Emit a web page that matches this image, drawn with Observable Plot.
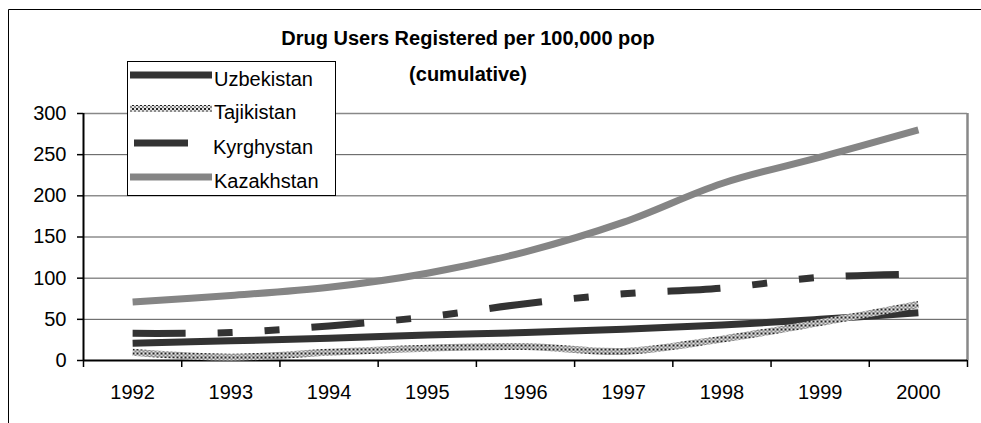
<!DOCTYPE html>
<html>
<head>
<meta charset="utf-8">
<script src="https://cdn.jsdelivr.net/npm/d3@7"></script>
<script src="https://cdn.jsdelivr.net/npm/@observablehq/plot@0.6"></script>
<style>
  html, body { margin: 0; padding: 0; background: #fff; }
  #wrap { position: relative; width: 981px; height: 423px; overflow: hidden; font-family: "Liberation Sans", Arial, sans-serif; }
  #wrap > svg { position: absolute; left: 0; top: 0; }
</style>
</head>
<body>
<div id="wrap"></div>
<script>
// ---- data ----
const years = [1992, 1993, 1994, 1995, 1996, 1997, 1998, 1999, 2000];
const uzbekistan = [21, 24, 27, 31, 34, 38, 43, 50, 58];
const tajikistan = [10, 4, 10, 15, 17, 11, 26, 46, 68];
const kyrghystan = [33, 34, 42, 53, 69, 81, 88, 101, 105];
const kazakhstan = [71, 79, 89, 106, 132, 168, 215, 247, 280];
const seriesNames = ["Uzbekistan", "Tajikistan", "Kyrghystan", "Kazakhstan"];
const yTicks = [0, 50, 100, 150, 200, 250, 300];
const titleLines = ["Drug Users Registered per 100,000 pop", "(cumulative)"];

const seriesValues = [uzbekistan, tajikistan, kyrghystan, kazakhstan];
const styles = {
  Uzbekistan: {stroke: "#333333"},
  Tajikistan: {stroke: "url(#tajpat)"},
  Kyrghystan: {stroke: "#333333", strokeDasharray: "53,32,15,32,15,32"},
  Kazakhstan: {stroke: "#858585"}
};

const wrap = document.getElementById("wrap");

// pattern defs
const defs = d3.select(wrap).append("svg").attr("width", 0).attr("height", 0);
const pat = defs.append("defs").append("pattern")
  .attr("id", "tajpat").attr("patternUnits", "userSpaceOnUse")
  .attr("width", 4).attr("height", 4);
pat.append("rect").attr("width", 4).attr("height", 4).attr("fill", "#e4e4e4");
pat.append("rect").attr("x", 0).attr("y", 0).attr("width", 2).attr("height", 2).attr("fill", "#222");
pat.append("rect").attr("x", 2).attr("y", 2).attr("width", 2).attr("height", 2).attr("fill", "#8a8a8a");

const rows = seriesNames.flatMap((name, k) =>
  years.map((year, i) => ({country: name, year, value: seriesValues[k][i]})));

const x0 = years[0] - 0.5, x1 = years[years.length - 1] + 0.5;
const bounds = d3.range(years.length + 1).map(i => x0 + i);

const chart = Plot.plot({
  width: 981, height: 423,
  marginLeft: 83, marginRight: 14, marginTop: 113, marginBottom: 63,
  style: {fontFamily: "'Liberation Sans', Arial, sans-serif", fontSize: "20px", color: "#000", background: "transparent", overflow: "visible"},
  x: {domain: [x0, x1]},
  y: {domain: [0, 300]},
  marks: [
    Plot.gridY(yTicks, {stroke: "#555", strokeOpacity: 1, strokeWidth: 1}),
    Plot.ruleY([300], {stroke: "#888", strokeWidth: 1.5}),
    Plot.ruleX([x1], {stroke: "#888", strokeWidth: 2.5}),
    Plot.axisY(yTicks, {tickSize: 6, tickPadding: 11, fontSize: 20, stroke: "#000", strokeWidth: 1.5, label: null, tickFormat: d => String(d)}),
    Plot.axisX(bounds, {tickSize: 7, tickFormat: () => "", label: null, stroke: "#000", strokeWidth: 1.5}),
    Plot.axisX(years, {tickSize: 0, tickPadding: 24, tickFormat: d => String(d), fontSize: 20, label: null}),
    Plot.ruleX([x0], {stroke: "#000", strokeWidth: 2}),
    Plot.ruleY([0], {stroke: "#000", strokeWidth: 2}),
    ...seriesNames.map(name => Plot.lineY(rows.filter(d => d.country === name), {
      x: "year", y: "value", curve: "catmull-rom", strokeWidth: 7,
      strokeLinecap: "butt", strokeLinejoin: "round", ...styles[name]
    }))
  ]
});
wrap.appendChild(chart);

// overlay: frame, title, legend
const ov = d3.select(wrap).append("svg").attr("width", 981).attr("height", 423)
  .style("font-family", "'Liberation Sans', Arial, sans-serif");
ov.append("path").attr("d", "M8.5,430V9.5H990").attr("fill", "none").attr("stroke", "#000").attr("stroke-width", 1);

ov.append("text").attr("x", 468).attr("y", 45).attr("text-anchor", "middle")
  .attr("font-weight", "bold").attr("font-size", 20).text(titleLines[0]);
ov.append("text").attr("x", 468).attr("y", 81).attr("text-anchor", "middle")
  .attr("font-weight", "bold").attr("font-size", 20).text(titleLines[1]);

ov.append("rect").attr("x", 127.5).attr("y", 61.5).attr("width", 208).attr("height", 134)
  .attr("fill", "#fff").attr("stroke", "#000").attr("stroke-width", 1);
const legY = [75, 108.5, 143, 177];
const legBase = [86, 118.5, 153.5, 187.5];
seriesNames.forEach((name, i) => {
  const st = styles[name];
  const short = name === "Kyrghystan";
  ov.append("line")
    .attr("x1", short ? 134 : 130).attr("x2", short ? 188 : 212)
    .attr("y1", legY[i]).attr("y2", legY[i])
    .attr("stroke", st.stroke).attr("stroke-width", 7);
  ov.append("text").attr("x", short ? 213 : 214).attr("y", legBase[i])
    .attr("font-size", 20).text(name);
});
</script>
</body>
</html>
